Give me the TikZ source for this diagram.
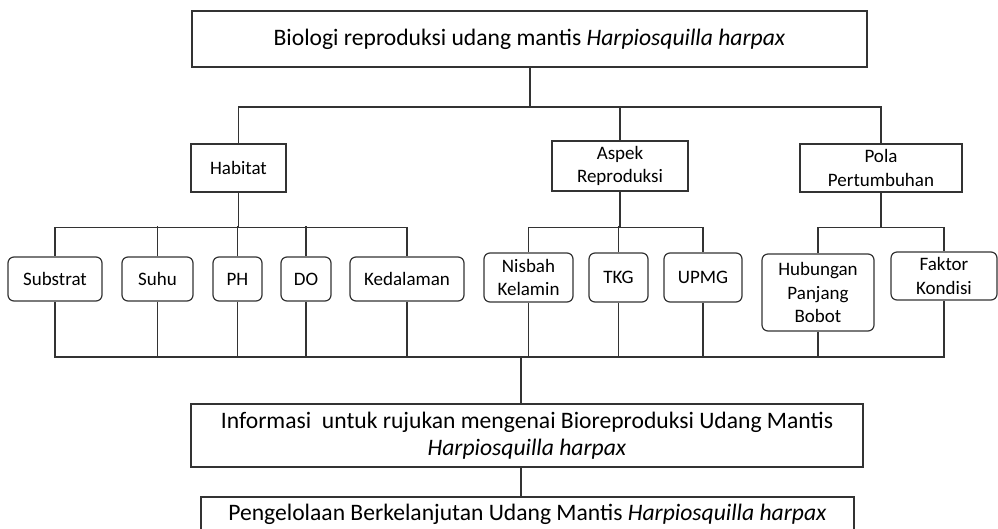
\documentclass[tikz,border=0pt]{standalone}
\usepackage{fontspec}
\setmainfont{Carlito}
\usepackage{tikz}
\usetikzlibrary{positioning}

\newcommand{\fbig}{\fontsize{23.6}{27.5}\selectfont}
\newcommand{\fmid}{\fontsize{19}{23.5}\selectfont}

\begin{document}
\begin{tikzpicture}[
  x=1pt, y=-1pt,
  box/.style={draw=black!80, line width=1.2pt, align=center, inner sep=0pt,
              font=\fmid},
  leaf/.style={box, rounded corners=6pt},
  wire/.style={draw=black!80, line width=1.2pt}
]
\useasboundingbox (0,0) rectangle (998,528);

% top
\node[box, font=\fbig, minimum width=675pt, minimum height=56pt] (title) at (529.5,39)
  {Biologi reproduksi udang mantis \textit{Harpiosquilla harpax}};

% second level
\node[box, minimum width=95pt, minimum height=48pt] (habitat) at (238.5,168) {Habitat};
\node[box, minimum width=136pt, minimum height=50pt] (aspek) at (620,166) {Aspek\\Reproduksi};
\node[box, minimum width=162pt, minimum height=48pt] (pola) at (881,168) {Pola\\Pertumbuhan};

% leaves
\node[leaf, minimum width=94pt, minimum height=44pt] (substrat) at (55,279) {Substrat};
\node[leaf, minimum width=71pt, minimum height=44pt] (suhu) at (157.5,279) {Suhu};
\node[leaf, minimum width=49pt, minimum height=44pt] (ph) at (237.5,279) {PH};
\node[leaf, minimum width=50pt, minimum height=44pt] (do) at (306,279) {DO};
\node[leaf, minimum width=114pt, minimum height=44pt] (kedalaman) at (407,279) {Kedalaman};
\node[leaf, minimum width=89pt, minimum height=49pt] (nisbah) at (528.5,277.5) {Nisbah\\Kelamin};
\node[leaf, minimum width=59pt, minimum height=49pt] (tkg) at (618.5,277.5) {TKG};
\node[leaf, minimum width=78pt, minimum height=49pt] (upmg) at (703,277.5) {UPMG};
\node[leaf, minimum width=112pt, minimum height=77pt] (hubungan) at (818,292.5) {Hubungan\\Panjang\\Bobot};
\node[leaf, minimum width=106pt, minimum height=48pt] (faktor) at (944,276) {Faktor\\Kondisi};

% bottom
\node[box, font=\fbig, minimum width=672pt, minimum height=63pt] (info) at (527,435.5)
  {Informasi~ untuk rujukan mengenai Bioreproduksi Udang Mantis\\\textit{Harpiosquilla harpax}};
\node[box, font=\fbig, minimum width=653pt, minimum height=34pt] (peng) at (527.5,514)
  {Pengelolaan Berkelanjutan Udang Mantis \textit{Harpiosquilla harpax}};

% connectors
\coordinate (tbus) at (530,107);
\coordinate (bbus) at (521,357);
\draw[wire] (title.south -| tbus) -- (tbus) -| (habitat.north);
\draw[wire] (tbus) -| (pola.north);
\draw[wire] (aspek.north) -- (aspek.north |- tbus);

\draw[wire] (habitat.south) -- ++(0,35) -| (substrat.north);
\draw[wire] (habitat.south) ++(0,35) -| (kedalaman.north);
\foreach \n in {suhu,ph,do}
  \draw[wire] (\n.north) -- ++(0,-30);

\draw[wire] (aspek.south) -- ++(0,36) -| (nisbah.north);
\draw[wire] (aspek.south) ++(0,36) -| (upmg.north);
\draw[wire] (tkg.north) -- ++(0,-26);

\draw[wire] (pola.south) -- ++(0,35) -| (hubungan.north);
\draw[wire] (pola.south) ++(0,35) -| (faktor.north);

\draw[wire] (substrat.south) |- (bbus) -| (faktor.south);
\foreach \n in {suhu,ph,do,kedalaman,nisbah,tkg,upmg,hubungan}
  \draw[wire] (\n.south) -- (\n.south |- bbus);

\draw[wire] (bbus) -- (bbus |- info.north);
\draw[wire] (info.south -| bbus) -- (bbus |- peng.north);
\end{tikzpicture}
\end{document}
